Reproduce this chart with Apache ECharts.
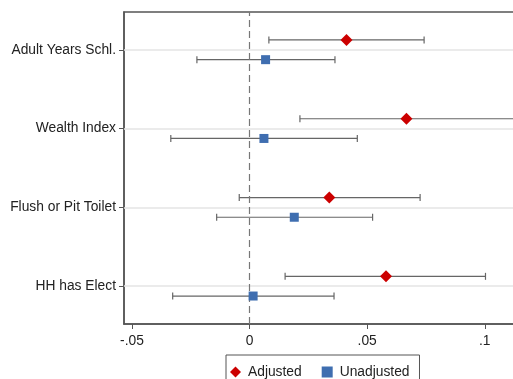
<!DOCTYPE html>
<html>
<head>
<meta charset="utf-8">
<script src="https://cdn.jsdelivr.net/npm/echarts@6/dist/echarts.min.js"></script>
<style>
  html, body { margin: 0; padding: 0; background: #fff; }
  #chart { width: 513px; height: 379px; }
</style>
</head>
<body>
<div id="chart"></div>
<script>
// Outcomes, listed top to bottom
const categories = ['Adult Years Schl.', 'Wealth Index', 'Flush or Pit Toilet', 'HH has Elect'];

// Adjusted estimates with 95% CI
const adjusted      = [0.0412, 0.0667, 0.0339, 0.0580];
const adjustedLow   = [0.0082, 0.0214, -0.0044, 0.0151];
const adjustedHigh  = [0.0742, 0.1130, 0.0725, 0.1003];

// Unadjusted estimates with 95% CI
const unadjusted     = [0.0068, 0.0061, 0.0190, 0.0015];
const unadjustedLow  = [-0.0224, -0.0335, -0.0140, -0.0327];
const unadjustedHigh = [0.0363, 0.0458, 0.0523, 0.0359];

// x-axis tick labels
const xTicks = [-0.05, 0, 0.05, 0.1];
const xTickLabels = ['-.05', '0', '.05', '.1'];

// Each outcome sits on an integer row; the two estimates are offset above/below it
const n = categories.length;
const rowOf = i => n - i;
const shift = 0.125;

const adjPts = adjusted.map((v, i) => [v, rowOf(i) + shift]);
const unadjPts = unadjusted.map((v, i) => [v, rowOf(i) - shift]);
const adjBars = adjusted.map((v, i) => [adjustedLow[i], adjustedHigh[i], rowOf(i) + shift]);
const unadjBars = unadjusted.map((v, i) => [unadjustedLow[i], unadjustedHigh[i], rowOf(i) - shift]);
const rows = categories.map((c, i) => rowOf(i));

const FONT = 'Liberation Sans, Arial, sans-serif';
const AXIS = '#555';
const BAR = '#666';

function errorBar(params, api) {
  const lo = api.coord([api.value(0), api.value(2)]);
  const hi = api.coord([api.value(1), api.value(2)]);
  const cap = 3.5;
  const style = { stroke: BAR, lineWidth: 1.2 };
  return {
    type: 'group',
    children: [
      { type: 'line', shape: { x1: lo[0], y1: lo[1], x2: hi[0], y2: hi[1] }, style },
      { type: 'line', shape: { x1: lo[0], y1: lo[1] - cap, x2: lo[0], y2: lo[1] + cap }, style },
      { type: 'line', shape: { x1: hi[0], y1: hi[1] - cap, x2: hi[0], y2: hi[1] + cap }, style }
    ]
  };
}

const chart = echarts.init(document.getElementById('chart'), null, { renderer: 'canvas' });
chart.setOption({
  animation: false,
  backgroundColor: '#fff',
  grid: {
    left: 124, right: -12, top: 12, bottom: 55,
    outerBoundsMode: 'none',
    containLabel: false,
    show: true, borderColor: AXIS, borderWidth: 1.5, backgroundColor: 'transparent'
  },
  xAxis: {
    type: 'value',
    min: -0.0534,
    max: 0.1171,
    axisLine: { show: true, onZero: false, lineStyle: { color: AXIS, width: 1.5 } },
    axisTick: { show: true, length: 5, customValues: xTicks, lineStyle: { color: AXIS } },
    axisLabel: {
      customValues: xTicks,
      margin: 10,
      color: '#222',
      fontFamily: FONT,
      fontSize: 13.8,
      formatter: v => {
        const k = xTicks.findIndex(t => Math.abs(t - v) < 1e-9);
        return k >= 0 ? xTickLabels[k] : '';
      }
    },
    splitLine: { show: false }
  },
  yAxis: {
    type: 'value',
    min: 0.52,
    max: 4.48,
    axisLine: { show: true, onZero: false, lineStyle: { color: AXIS, width: 1.5 } },
    axisTick: { show: true, length: 5, customValues: rows, lineStyle: { color: AXIS } },
    axisLabel: {
      customValues: rows,
      margin: 8,
      color: '#222',
      fontFamily: FONT,
      fontSize: 13.8,
      formatter: v => categories[n - Math.round(v)] || ''
    },
    splitLine: { show: false }
  },
  legend: {
    left: 226,
    top: 355,
    orient: 'horizontal',
    borderColor: AXIS,
    borderWidth: 1,
    padding: [10, 10, 14, 4],
    itemGap: 20,
    itemWidth: 11,
    itemHeight: 11,
    textStyle: { color: '#222', fontFamily: FONT, fontSize: 13.8, padding: [0, 0, 0, 2] },
    data: [
      { name: 'Adjusted', icon: 'diamond' },
      { name: 'Unadjusted', icon: 'rect' }
    ]
  },
  series: [
    {
      name: 'rows',
      type: 'scatter',
      data: [],
      silent: true,
      markLine: {
        silent: true,
        symbol: 'none',
        label: { show: false },
        lineStyle: { color: '#e4e4e4', width: 1.5, type: 'solid' },
        data: rows.map(r => ({ yAxis: r }))
      }
    },
    {
      name: 'zero',
      type: 'scatter',
      data: [],
      silent: true,
      markLine: {
        silent: true,
        symbol: 'none',
        label: { show: false },
        lineStyle: { color: '#777', width: 1.2, type: [7, 4] },
        data: [{ xAxis: 0 }]
      }
    },
    {
      name: 'adjCI',
      type: 'custom',
      renderItem: errorBar,
      data: adjBars,
      encode: { x: [0, 1], y: 2 },
      z: 3
    },
    {
      name: 'unadjCI',
      type: 'custom',
      renderItem: errorBar,
      data: unadjBars,
      encode: { x: [0, 1], y: 2 },
      z: 3
    },
    {
      name: 'Adjusted',
      type: 'scatter',
      symbol: 'diamond',
      symbolSize: 12,
      itemStyle: { color: '#cc0000', opacity: 1 },
      data: adjPts,
      z: 5
    },
    {
      name: 'Unadjusted',
      type: 'scatter',
      symbol: 'rect',
      symbolSize: 9,
      itemStyle: { color: '#3f6eb0', opacity: 1 },
      data: unadjPts,
      z: 5
    }
  ]
});
</script>
</body>
</html>
